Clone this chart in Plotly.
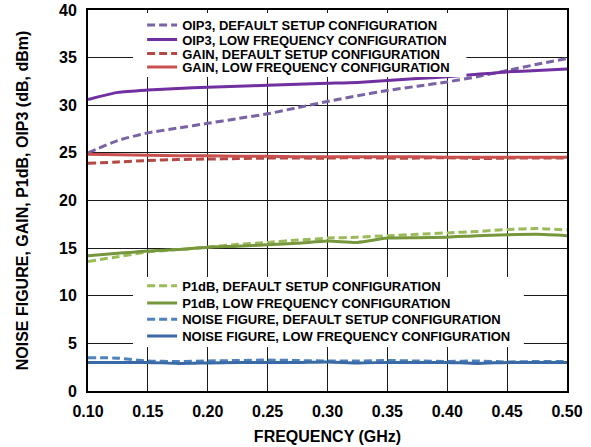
import plotly.graph_objects as go

freq = [0.100, 0.125, 0.150, 0.175, 0.200, 0.225, 0.250, 0.275, 0.300,
        0.325, 0.350, 0.375, 0.400, 0.425, 0.450, 0.475, 0.500]

oip3_default = [25.0, 26.3, 27.1, 27.6, 28.1, 28.6, 29.1, 29.75, 30.4,
                31.0, 31.55, 32.0, 32.45, 33.0, 33.65, 34.3, 34.9]
oip3_lowfreq = [30.6, 31.35, 31.6, 31.75, 31.9, 32.0, 32.1, 32.2, 32.3,
                32.4, 32.6, 32.8, 33.0, 33.25, 33.5, 33.65, 33.8]
gain_default = [23.9, 24.05, 24.2, 24.3, 24.35, 24.4, 24.45, 24.45, 24.45,
                24.5, 24.45, 24.45, 24.5, 24.4, 24.45, 24.45, 24.45]
gain_lowfreq = [24.85, 24.8, 24.75, 24.7, 24.7, 24.65, 24.65, 24.6, 24.6,
                24.6, 24.6, 24.6, 24.55, 24.55, 24.55, 24.55, 24.55]
p1db_default = [13.6, 14.1, 14.6, 14.85, 15.1, 15.4, 15.6, 15.85, 16.05,
                16.15, 16.3, 16.45, 16.6, 16.75, 16.95, 17.05, 16.9]
p1db_lowfreq = [14.2, 14.45, 14.7, 14.85, 15.1, 15.2, 15.35, 15.5, 15.75,
                15.6, 16.05, 16.1, 16.15, 16.3, 16.4, 16.45, 16.3]
nf_default = [3.5, 3.45, 3.15, 3.1, 3.15, 3.2, 3.25, 3.2, 3.15,
              3.15, 3.2, 3.15, 3.1, 3.15, 3.05, 3.1, 3.1]
nf_lowfreq = [3.0, 3.0, 3.0, 2.9, 2.95, 3.0, 3.0, 3.0, 3.05,
              2.95, 3.0, 3.0, 3.0, 2.9, 3.0, 3.0, 3.0]

x_ticks = [0.10, 0.15, 0.20, 0.25, 0.30, 0.35, 0.40, 0.45, 0.50]
y_ticks = [0, 5, 10, 15, 20, 25, 30, 35, 40]

series = [
    ("OIP3, DEFAULT SETUP CONFIGURATION", oip3_default, "#7a62a6", "8px,4px"),
    ("OIP3, LOW FREQUENCY CONFIGURATION", oip3_lowfreq, "#7030a0", "solid"),
    ("GAIN, DEFAULT SETUP CONFIGURATION", gain_default, "#b54844", "8px,4px"),
    ("GAIN, LOW FREQUENCY CONFIGURATION", gain_lowfreq, "#c9504d", "solid"),
    ("P1dB, DEFAULT SETUP CONFIGURATION", p1db_default, "#9bbb59", "8px,4px"),
    ("P1dB, LOW FREQUENCY CONFIGURATION", p1db_lowfreq, "#77973c", "solid"),
    ("NOISE FIGURE, DEFAULT SETUP CONFIGURATION", nf_default, "#4f81bd", "8px,4px"),
    ("NOISE FIGURE, LOW FREQUENCY CONFIGURATION", nf_lowfreq, "#3a6aa5", "solid"),
]

# legend row centres (paper y)
legend_rows = [0.9606, 0.9226, 0.8858, 0.8504, 0.2764, 0.2310, 0.1882, 0.1444]

fig = go.Figure()
legend_ids = ["legend"] + [f"legend{i}" for i in range(2, 9)]
for (name, vals, color, dash), lid in zip(series, legend_ids):
    fig.add_trace(go.Scatter(
        x=freq, y=vals, mode="lines", name=name, legend=lid, showlegend=True,
        line=dict(color=color, width=3, dash=dash, shape="spline", smoothing=0.6),
    ))

font_family = "Liberation Sans, Arial, sans-serif"
layout_legends = {}
for lid, yrow in zip(legend_ids, legend_rows):
    layout_legends[lid] = dict(
        x=0.113, y=yrow, xanchor="left", yanchor="middle",
        bgcolor="rgba(0,0,0,0)", borderwidth=0, itemwidth=30,
        font=dict(family=font_family, size=13, color="black", weight="bold"),
    )

fig.update_layout(
    width=591, height=447,
    showlegend=True,
    margin=dict(l=88, r=24, t=10, b=56),
    paper_bgcolor="white", plot_bgcolor="white",
    font=dict(family=font_family, color="black"),
    xaxis=dict(
        range=[0.1, 0.5], tickvals=x_ticks, tickformat=".2f",
        showgrid=True, gridcolor="#1a1a1a", gridwidth=1.3,
        showline=True, linecolor="black", linewidth=2, mirror=True,
        ticks="", zeroline=False, ticklabelstandoff=5, automargin=False,
        tickfont=dict(size=16, weight="bold", color="black"),
        title=dict(text="FREQUENCY (GHz)", standoff=12,
                   font=dict(size=16, weight="bold", color="black")),
    ),
    yaxis=dict(
        range=[0, 40], tickvals=y_ticks,
        showgrid=True, gridcolor="#1a1a1a", gridwidth=1.3,
        showline=True, linecolor="black", linewidth=2, mirror=True,
        ticks="", zeroline=False, ticklabelstandoff=6, automargin=False,
        tickfont=dict(size=16, weight="bold", color="black"),
        title=dict(text="NOISE FIGURE, GAIN, P1dB, OIP3 (dB, dBm)", standoff=26,
                   font=dict(size=16, weight="bold", color="black")),
    ),
    **layout_legends,
)

# white panels behind the two legend blocks
fig.add_shape(type="rect", xref="paper", yref="paper", x0=0.094, x1=0.79,
              y0=0.8241, y1=0.992, fillcolor="white", line=dict(width=0),
              layer="above", showlegend=False)
fig.add_shape(type="rect", xref="paper", yref="paper", x0=0.094, x1=0.91,
              y0=0.1155, y1=0.2992, fillcolor="white", line=dict(width=0),
              layer="above", showlegend=False)

fig.write_html("out.html", config={"displayModeBar": False},
               post_script="document.body.style.margin='0';")
